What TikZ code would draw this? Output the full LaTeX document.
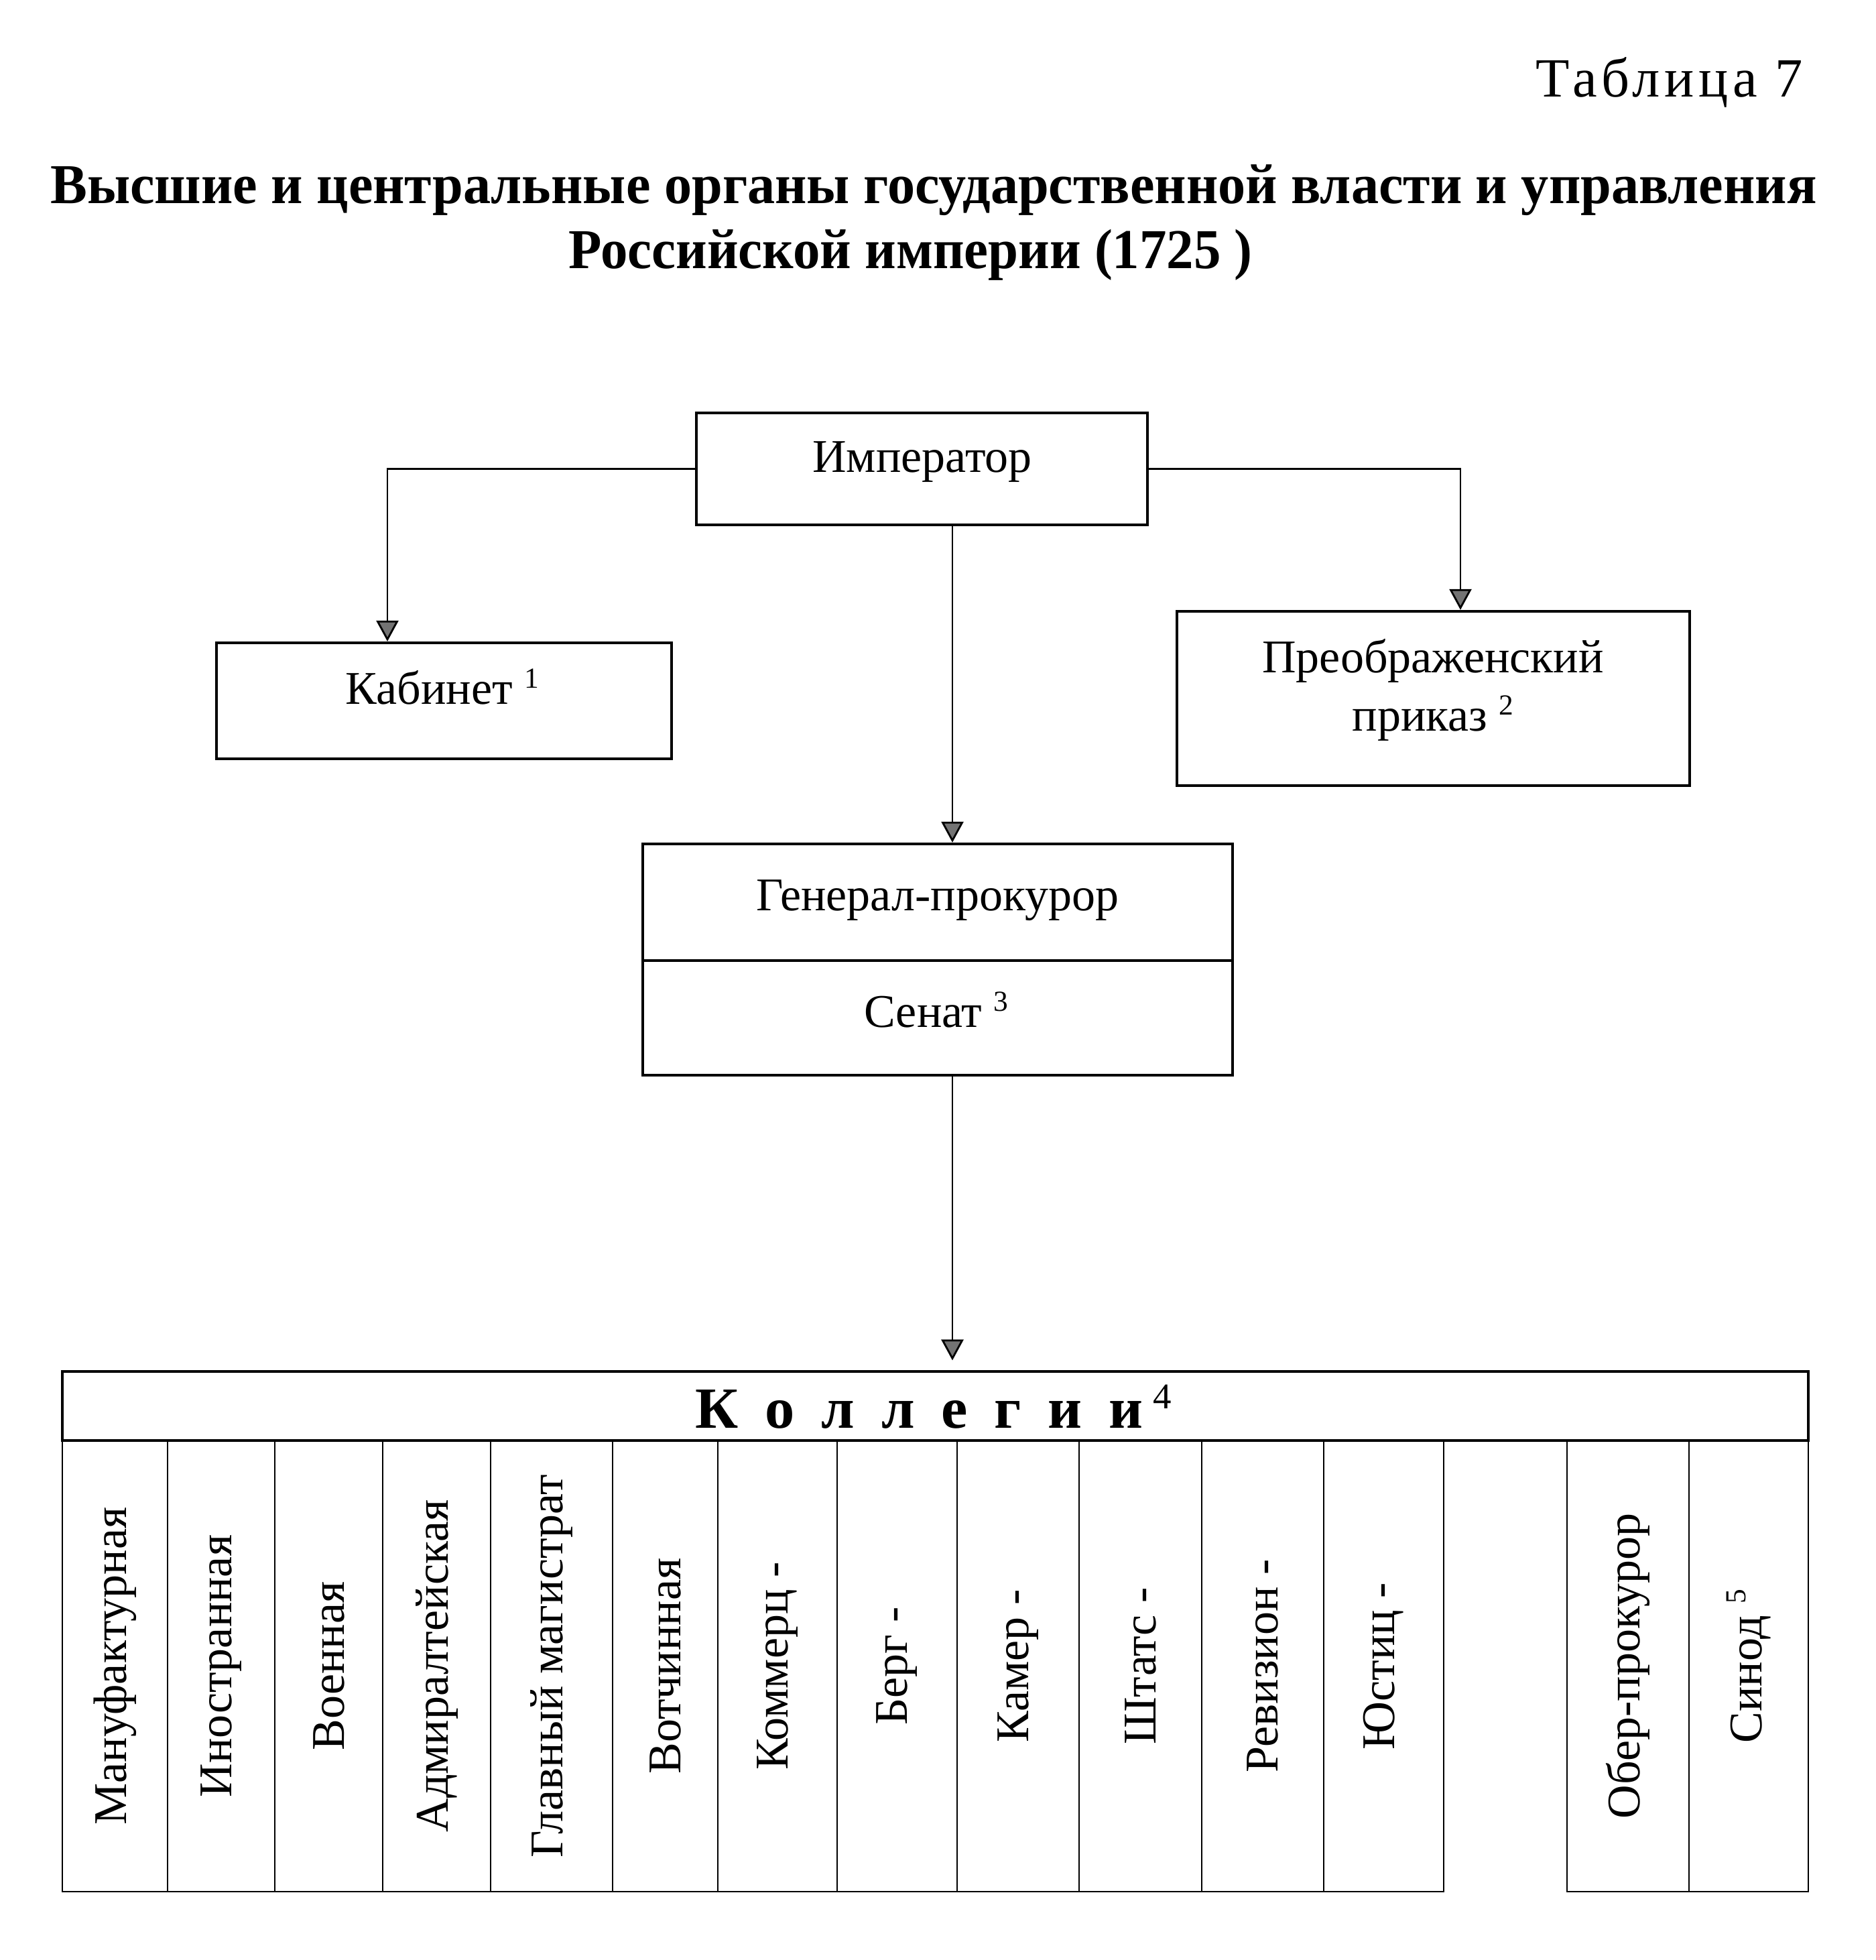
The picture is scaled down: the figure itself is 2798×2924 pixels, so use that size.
\documentclass[tikz,border=0pt]{standalone}
\usepackage{fontspec}
\usepackage{graphicx}
\setmainfont{Liberation Serif}
\newfontfamily\spacedfont[LetterSpace=8]{Liberation Serif}
\usetikzlibrary{arrows.meta,calc}
\newcommand\supx[1]{\raisebox{0.33em}{\scalebox{0.62}{#1}}}
\newcommand\fitbox[3]{\resizebox{#1}{#2}{\smash{#3}\vphantom{H}}}
\begin{document}
\begin{tikzpicture}[x=0.25pt,y=-0.25pt,
  box/.style={draw, line width=1.1pt, rectangle, inner sep=0pt},
  tbl/.style={draw, line width=0.8pt, rectangle, inner sep=0pt},
  colbox/.style={draw, line width=0.55pt, rectangle, inner sep=0pt, minimum height=168.25pt},
  lbl/.style={anchor=base, inner sep=0pt, font=\fontsize{17.5pt}{21pt}\selectfont},
  vtext/.style={rotate=90, inner sep=0pt, font=\fontsize{17.5pt}{21pt}\selectfont},
  conn/.style={line width=0.7pt, -{Triangle[width=8.25pt,length=7.75pt,fill=black!55]}}]
\fill[white] (0,0) rectangle (2798,2924);
\useasboundingbox (0,0) rectangle (2798,2924);

% titles
\node[anchor=base east, inner sep=0pt] (tab) at (2691,144) {\fitbox{99.75pt}{13.5pt}{\spacedfont Таблица 7}};
\node[anchor=base, inner sep=0pt] (title1) at (1393,303) {\fitbox{658.75pt}{13.75pt}{\bfseries Высшие и центральные органы государственной власти и управления}};
\node[anchor=base, inner sep=0pt] (title2) at (1359,400) {\fitbox{255pt}{13.75pt}{\bfseries Российской империи (1725 )}};

% boxes
\node[box, minimum width=168.25pt, minimum height=41.75pt] (emp) at (1375.5,699.5) {};
\node[box, minimum width=169.75pt, minimum height=43.25pt] (kab) at (662.5,1045.5) {};
\node[box, minimum width=191.25pt, minimum height=65pt] (pre) at (2138.5,1042) {};
\node[box, minimum width=220pt, minimum height=43.5pt] (gp) at (1399,1346) {};
\node[box, minimum width=220pt, minimum height=42.75pt] (sen) at (1399,1518.5) {};

\node[lbl] (empT) at (1376,704) {Император};
\node[lbl] (kabT) at (660,1050) {Кабинет \supx{1}};
\node[lbl] (preT1) at (2138,1003) {Преображенский};
\node[lbl] (preT2) at (2138,1090) {приказ \supx{2}};
\node[lbl] (gpT) at (1399,1358) {Генерал-прокурор};
\node[lbl] (senT) at (1397,1532) {Сенат \supx{3}};

% collegia table
\node[tbl, minimum width=651.25pt, minimum height=25.75pt] (kol) at (1395.5,2097.5) {};
\node[anchor=base, inner sep=0pt] (kolT) at (1393,2130) {\fitbox{177.5pt}{14.25pt}{{\bfseries\spaceskip=0.45em К о л л е г и и}\,\supx{4}}};

\foreach \a/\b/\t [count=\i] in {
  93/250/Мануфактурная,
  250/410/Иностранная,
  410/571/Военная,
  571/732/Адмиралтейская,
  732/914/Главный магистрат,
  914/1071/Вотчинная,
  1071/1249/Коммерц -,
  1249/1428/Берг -,
  1428/1610/Камер -,
  1610/1793/Штатс -,
  1793/1975/Ревизион -,
  1975/2154/Юстиц -,
  2338/2520/Обер-прокурор,
  2520/2698/{Синод \supx{5}}}{
  \node[colbox, minimum width={(\b-\a)*0.25pt}] (col\i) at ({(\a+\b)/2},2485.5) {};
  \node[vtext] (colT\i) at (col\i.center) {\t};
}

% connectors
\coordinate (mx) at (1421,0);
\draw[conn] (emp.west) -| ($(kab.north)+(-84.5,0)$);
\draw[conn] (emp.east) -| ($(pre.north)+(40.5,0)$);
\draw[conn] (emp.south -| mx) -- (gp.north -| mx);
\draw[conn, shorten >=3.75pt] (sen.south -| mx) -- (kol.north -| mx);
\end{tikzpicture}
\end{document}
